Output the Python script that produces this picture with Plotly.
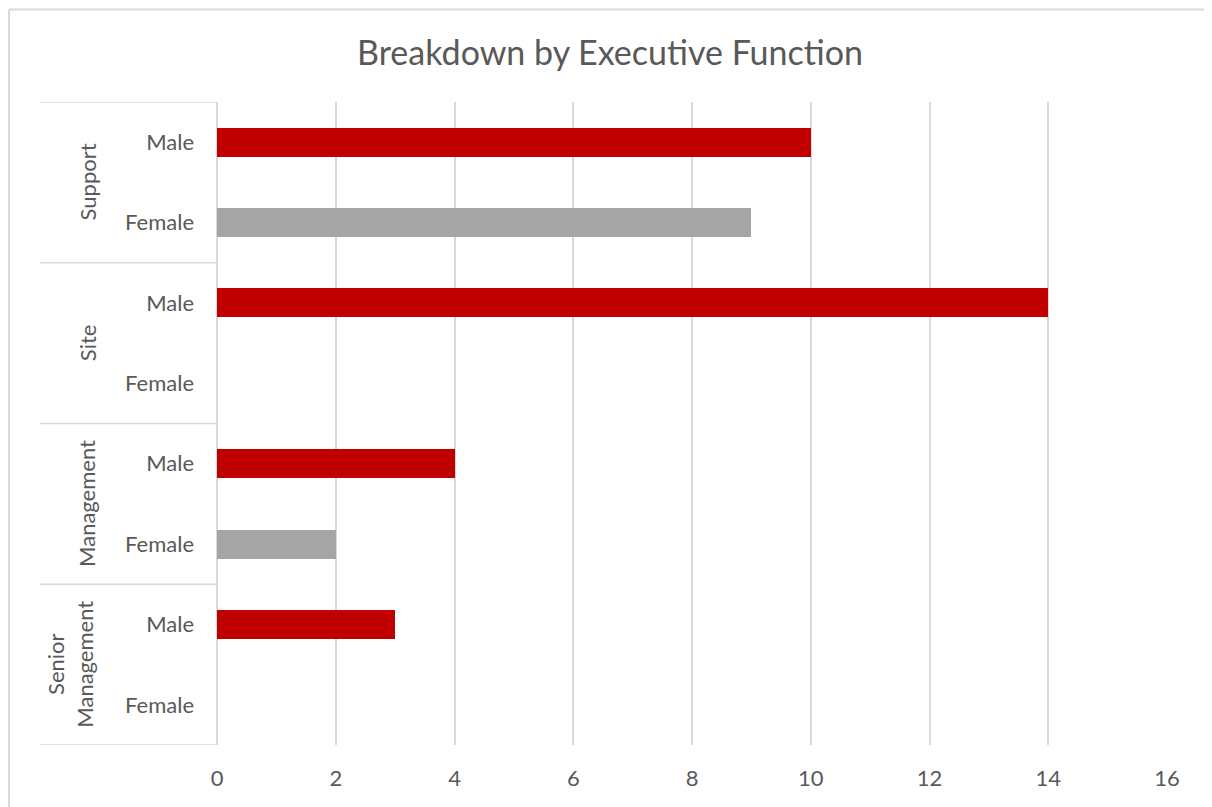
import plotly.graph_objects as go

groups = ["Senior Management", "Management", "Site", "Support"]
group_labels = ["Senior<br>Management", "Management", "Site", "Support"]
genders = ["Female", "Male"]
female_values = [0, 2, 0, 9]
male_values = [3, 4, 14, 10]
x_ticks = [0, 2, 4, 6, 8, 10, 12, 14, 16]

RED = "#C00000"
GRAY = "#A5A5A5"
LINE = "#D9D9D9"
TEXT = "#595959"
FONT = "Lato"

OFF = 8  # page body margin
W, H = 1212 - OFF, 807 - OFF
L, T = 217 - OFF, 102 - OFF
pw = 1167 - 217
ph = 745 - 102
R = W - L - pw
B = H - T - ph

def px_to_paper_x(px):
    return (px - OFF - L) / pw

def px_to_paper_y(py):
    return (T + ph - (py - OFF)) / ph

female_pos = [2 * i for i in range(len(groups))]
male_pos = [2 * i + 1 for i in range(len(groups))]

fig = go.Figure()
fig.add_trace(go.Bar(x=female_values, y=female_pos, orientation="h",
                     marker=dict(color=GRAY, line=dict(width=0)), width=0.36, name="Female"))
fig.add_trace(go.Bar(x=male_values, y=male_pos, orientation="h",
                     marker=dict(color=RED, line=dict(width=0)), width=0.36, name="Male"))

tickvals = []
ticktext = []
for i in range(len(groups)):
    tickvals += [2 * i, 2 * i + 1]
    ticktext += genders

shapes = []
bx = px_to_paper_x(OFF + 1)
by = px_to_paper_y(9.5)
shapes.append(dict(type="line", xref="paper", yref="paper",
                   x0=bx, x1=bx, y0=px_to_paper_y(900), y1=by,
                   line=dict(color=LINE, width=2), layer="below"))
shapes.append(dict(type="line", xref="paper", yref="paper",
                   x0=bx, x1=px_to_paper_x(1300), y0=by, y1=by,
                   line=dict(color=LINE, width=2), layer="below"))
for b in [-0.5, 1.5, 3.5, 5.5, 7.5]:
    shapes.append(dict(type="line", xref="paper", yref="y",
                       x0=px_to_paper_x(40), x1=0, y0=b, y1=b,
                       line=dict(color=LINE, width=1.5)))

annotations = []
for i, g in enumerate(group_labels):
    cx = 70 if "<br>" in g else 87
    annotations.append(dict(text=g, xref="paper", yref="y",
                            x=px_to_paper_x(cx), y=2 * i + 0.5,
                            textangle=-90, showarrow=False,
                            xanchor="center", yanchor="middle",
                            font=dict(family=FONT, size=22, color=TEXT)))

fig.update_layout(
    width=W, height=H,
    margin=dict(l=L, r=R, t=T, b=B),
    paper_bgcolor="white", plot_bgcolor="white",
    showlegend=False,
    bargap=0,
    title=dict(text="Breakdown by Executive Function", x=px_to_paper_x(610),
               xanchor="center", xref="paper",
               y=1 - (53 - OFF) / H, yanchor="middle", yref="container",
               font=dict(family=FONT, size=34, color=TEXT)),
    xaxis=dict(range=[0, 16], tickvals=x_ticks, ticktext=[str(v) for v in x_ticks],
               showgrid=True, gridcolor=LINE, gridwidth=1.5,
               zeroline=True, zerolinecolor=LINE, zerolinewidth=1.5,
               showline=False, ticks="", ticklabelstandoff=18,
               tickfont=dict(family=FONT, size=22, color=TEXT), fixedrange=True),
    yaxis=dict(range=[-0.5, 7.5], tickvals=tickvals, ticktext=ticktext,
               showgrid=False, zeroline=False, showline=False, ticks="",
               ticklabelstandoff=22,
               tickfont=dict(family=FONT, size=22, color=TEXT), fixedrange=True),
    shapes=shapes,
    annotations=annotations,
)

fig.write_html("out.html")
